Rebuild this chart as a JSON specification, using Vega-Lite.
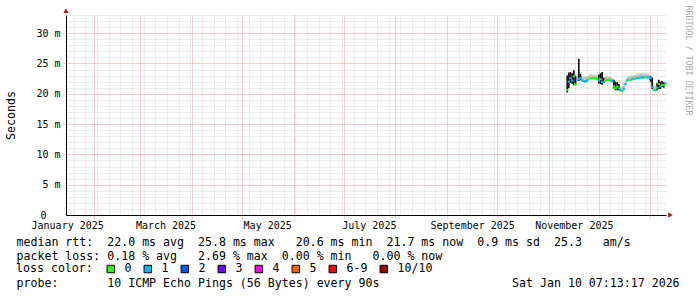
{
  "$schema": "https://vega.github.io/schema/vega-lite/v6.json",
  "width": 600,
  "height": 200,
  "autosize": {"type": "none"},
  "padding": {"left": 66, "top": 15, "right": 31, "bottom": 82},
  "background": "white",
  "config": {
    "view": {"stroke": null},
    "font": "DejaVu Sans Mono",
    "axis": {"labelFont": "DejaVu Sans Mono", "titleFont": "DejaVu Sans Mono", "titleFontWeight": "normal", "labelColor": "#000", "titleColor": "#000"},
    "legend": {"labelFont": "DejaVu Sans Mono", "titleFont": "DejaVu Sans Mono"}
  },
  "datasets": {
    "pings": [
      {"t":"2025-11-12T00:00","med":20.6,"lo":20.3,"hi":23.0,"loss":"0","bl":20.2,"bh":23.0},
      {"t":"2025-11-13T00:00","med":22.0,"lo":21.0,"hi":23.4,"loss":"1","bl":20.9,"bh":23.5},
      {"t":"2025-11-14T00:00","med":22.6,"lo":22.0,"hi":23.6,"loss":"1","bl":21.8,"bh":23.6},
      {"t":"2025-11-15T00:00","med":22.2,"lo":21.6,"hi":23.3,"loss":"1","bl":21.6,"bh":23.4},
      {"t":"2025-11-16T00:00","med":22.9,"lo":21.5,"hi":23.9,"loss":"0","bl":21.4,"bh":23.9},
      {"t":"2025-11-17T00:00","med":21.6,"lo":21.4,"hi":23.0,"loss":"0","bl":21.4,"bh":23.0},
      {"t":"2025-11-18T00:00","med":22.3,"lo":22.0,"hi":22.9,"loss":"1"},
      {"t":"2025-11-19T00:00","med":22.4,"lo":22.1,"hi":23.4,"loss":"1","bl":22.1,"bh":25.8},
      {"t":"2025-11-20T00:00","med":22.6,"lo":22.2,"hi":23.3,"loss":"1","bl":22.3,"bh":23.3},
      {"t":"2025-11-21T00:00","med":22.2,"lo":22.0,"hi":22.8,"loss":"1"},
      {"t":"2025-11-22T00:00","med":22.1,"lo":21.9,"hi":22.8,"loss":"1"},
      {"t":"2025-11-23T00:00","med":22.0,"lo":21.8,"hi":22.8,"loss":"1"},
      {"t":"2025-11-24T00:00","med":22.2,"lo":22.0,"hi":22.9,"loss":"1"},
      {"t":"2025-11-25T00:00","med":22.5,"lo":22.3,"hi":23.1,"loss":"0"},
      {"t":"2025-11-26T00:00","med":22.6,"lo":22.4,"hi":23.2,"loss":"0"},
      {"t":"2025-11-27T00:00","med":22.6,"lo":22.4,"hi":23.2,"loss":"0"},
      {"t":"2025-11-28T00:00","med":22.6,"lo":22.4,"hi":23.1,"loss":"0"},
      {"t":"2025-11-29T00:00","med":22.5,"lo":22.3,"hi":23.1,"loss":"0"},
      {"t":"2025-11-30T00:00","med":22.5,"lo":22.3,"hi":23.0,"loss":"0"},
      {"t":"2025-12-01T00:00","med":22.2,"lo":21.7,"hi":23.2,"loss":"1","bl":21.7,"bh":23.2},
      {"t":"2025-12-02T00:00","med":22.4,"lo":21.6,"hi":23.4,"loss":"0","bl":21.6,"bh":23.4},
      {"t":"2025-12-03T00:00","med":21.9,"lo":21.5,"hi":23.6,"loss":"1","bl":21.5,"bh":23.6},
      {"t":"2025-12-04T00:00","med":22.0,"lo":21.8,"hi":22.7,"loss":"1","bl":21.8,"bh":22.6},
      {"t":"2025-12-05T00:00","med":22.2,"lo":22.0,"hi":22.9,"loss":"0"},
      {"t":"2025-12-06T00:00","med":22.3,"lo":22.1,"hi":22.9,"loss":"0"},
      {"t":"2025-12-07T00:00","med":22.3,"lo":22.1,"hi":22.9,"loss":"0"},
      {"t":"2025-12-08T00:00","med":22.2,"lo":22.0,"hi":22.8,"loss":"1"},
      {"t":"2025-12-09T00:00","med":22.1,"lo":21.9,"hi":22.7,"loss":"1"},
      {"t":"2025-12-10T00:00","med":21.2,"lo":20.9,"hi":22.3,"loss":"0","bl":20.9,"bh":22.3},
      {"t":"2025-12-11T00:00","med":20.9,"lo":20.6,"hi":22.0,"loss":"0","bl":20.6,"bh":22.0},
      {"t":"2025-12-12T00:00","med":21.2,"lo":20.6,"hi":21.9,"loss":"0","bl":20.6,"bh":21.9},
      {"t":"2025-12-13T00:00","med":20.9,"lo":20.6,"hi":21.6,"loss":"1","bl":20.6,"bh":21.6},
      {"t":"2025-12-14T00:00","med":20.6,"lo":20.4,"hi":21.2,"loss":"1"},
      {"t":"2025-12-15T00:00","med":20.5,"lo":20.3,"hi":21.1,"loss":"0"},
      {"t":"2025-12-16T00:00","med":20.8,"lo":20.5,"hi":21.4,"loss":"1"},
      {"t":"2025-12-17T00:00","med":21.6,"lo":21.3,"hi":22.2,"loss":"1"},
      {"t":"2025-12-18T00:00","med":22.2,"lo":22.0,"hi":22.8,"loss":"1"},
      {"t":"2025-12-19T00:00","med":22.3,"lo":22.1,"hi":22.9,"loss":"0"},
      {"t":"2025-12-20T00:00","med":22.3,"lo":22.1,"hi":23.0,"loss":"0"},
      {"t":"2025-12-21T00:00","med":22.4,"lo":22.2,"hi":23.0,"loss":"1"},
      {"t":"2025-12-22T00:00","med":22.5,"lo":22.3,"hi":23.1,"loss":"1"},
      {"t":"2025-12-23T00:00","med":22.5,"lo":22.3,"hi":23.1,"loss":"0"},
      {"t":"2025-12-24T00:00","med":22.6,"lo":22.4,"hi":23.2,"loss":"1"},
      {"t":"2025-12-25T00:00","med":22.6,"lo":22.4,"hi":23.3,"loss":"1"},
      {"t":"2025-12-26T00:00","med":22.7,"lo":22.5,"hi":23.4,"loss":"1"},
      {"t":"2025-12-27T00:00","med":22.7,"lo":22.5,"hi":23.4,"loss":"1"},
      {"t":"2025-12-28T00:00","med":22.7,"lo":22.5,"hi":23.3,"loss":"1"},
      {"t":"2025-12-29T00:00","med":22.8,"lo":22.6,"hi":23.4,"loss":"0"},
      {"t":"2025-12-30T00:00","med":22.7,"lo":22.5,"hi":23.3,"loss":"1"},
      {"t":"2025-12-31T00:00","med":22.7,"lo":22.5,"hi":23.2,"loss":"1"},
      {"t":"2026-01-01T00:00","med":22.6,"lo":22.0,"hi":23.0,"loss":"1","bl":22.0,"bh":22.9},
      {"t":"2026-01-02T00:00","med":21.1,"lo":20.8,"hi":22.7,"loss":"1","bl":20.8,"bh":22.7},
      {"t":"2026-01-03T00:00","med":20.6,"lo":20.4,"hi":21.2,"loss":"0"},
      {"t":"2026-01-04T00:00","med":20.6,"lo":20.4,"hi":21.3,"loss":"1"},
      {"t":"2026-01-05T00:00","med":21.0,"lo":20.6,"hi":21.8,"loss":"0","bl":20.6,"bh":21.8},
      {"t":"2026-01-06T00:00","med":21.6,"lo":20.8,"hi":22.3,"loss":"0","bl":20.8,"bh":22.3},
      {"t":"2026-01-07T00:00","med":21.2,"lo":20.8,"hi":22.0,"loss":"1","bl":20.8,"bh":22.0},
      {"t":"2026-01-08T00:00","med":21.5,"lo":21.1,"hi":22.1,"loss":"0","bl":21.1,"bh":22.1},
      {"t":"2026-01-09T00:00","med":21.4,"lo":21.0,"hi":21.9,"loss":"0","bl":21.0,"bh":21.9},
      {"t":"2026-01-10T00:00","med":21.7,"lo":21.5,"hi":22.2,"loss":"1"}
    ],
    "arrows": [
      {"t":"2025-01-15T07:13:17","v":33.7,"dir":"up"},
      {"t":"2026-01-13T00:00:00","v":0,"dir":"right"}
    ]
  },
  "resolve": {"axis": {"x": "independent", "y": "independent"}},
  "layer": [
    {
      "data": {"name": "pings"},
      "mark": {"type": "area", "color": "#c4c4c4", "opacity": 1},
      "encoding": {
        "x": {
          "field": "t", "type": "temporal",
          "scale": {"domain": [{"year":2025,"month":1,"date":15,"hours":7,"minutes":13,"seconds":17},{"year":2026,"month":1,"date":10,"hours":7,"minutes":13,"seconds":17}]},
          "axis": {
            "orient": "bottom", "title": null, "labels": false, "domain": false, "ticks": false,
            "grid": true, "gridDash": [1, 1], "gridWidth": 1, "gridColor": "#d6d6d6",
            "values": [
              {"year":2025,"month":1,"date":20},{"year":2025,"month":1,"date":27},
              {"year":2025,"month":2,"date":3},{"year":2025,"month":2,"date":10},{"year":2025,"month":2,"date":17},{"year":2025,"month":2,"date":24},
              {"year":2025,"month":3,"date":3},{"year":2025,"month":3,"date":10},{"year":2025,"month":3,"date":17},{"year":2025,"month":3,"date":24},{"year":2025,"month":3,"date":31},
              {"year":2025,"month":4,"date":7},{"year":2025,"month":4,"date":14},{"year":2025,"month":4,"date":21},{"year":2025,"month":4,"date":28},
              {"year":2025,"month":5,"date":5},{"year":2025,"month":5,"date":12},{"year":2025,"month":5,"date":19},{"year":2025,"month":5,"date":26},
              {"year":2025,"month":6,"date":2},{"year":2025,"month":6,"date":9},{"year":2025,"month":6,"date":16},{"year":2025,"month":6,"date":23},{"year":2025,"month":6,"date":30},
              {"year":2025,"month":7,"date":7},{"year":2025,"month":7,"date":14},{"year":2025,"month":7,"date":21},{"year":2025,"month":7,"date":28},
              {"year":2025,"month":8,"date":4},{"year":2025,"month":8,"date":11},{"year":2025,"month":8,"date":18},{"year":2025,"month":8,"date":25},
              {"year":2025,"month":9,"date":8},{"year":2025,"month":9,"date":15},{"year":2025,"month":9,"date":22},{"year":2025,"month":9,"date":29},
              {"year":2025,"month":10,"date":6},{"year":2025,"month":10,"date":13},{"year":2025,"month":10,"date":20},{"year":2025,"month":10,"date":27},
              {"year":2025,"month":11,"date":3},{"year":2025,"month":11,"date":10},{"year":2025,"month":11,"date":17},{"year":2025,"month":11,"date":24},
              {"year":2025,"month":12,"date":8},{"year":2025,"month":12,"date":15},{"year":2025,"month":12,"date":22},{"year":2025,"month":12,"date":29},
              {"year":2026,"month":1,"date":5}
            ]
          }
        },
        "y": {
          "field": "lo", "type": "quantitative",
          "scale": {"domain": [0, 33], "nice": false, "zero": true},
          "axis": {
            "orient": "left", "title": null, "labels": false, "domain": false, "ticks": false,
            "grid": true, "gridDash": [1, 1], "gridWidth": 1, "gridColor": "#d6d6d6",
            "values": [1,2,3,4,6,7,8,9,11,12,13,14,16,17,18,19,21,22,23,24,26,27,28,29,31,32,33]
          }
        },
        "y2": {"field": "hi"}
      }
    },
    {
      "data": {"name": "pings"},
      "transform": [{"filter": "isValid(datum.bh)"}],
      "mark": {"type": "rule", "color": "#000000", "strokeWidth": 1.5},
      "encoding": {
        "x": {
          "field": "t", "type": "temporal",
          "axis": {
            "orient": "bottom", "title": null, "labels": false, "domain": false,
            "grid": true, "gridDash": [1, 1], "gridWidth": 1, "gridColor": "#ec9c9c",
            "ticks": true, "tickSize": 3, "tickDash": [1, 1], "tickColor": "#ec9c9c",
            "values": [
              {"year":2025,"month":2,"date":1},{"year":2025,"month":3,"date":1},{"year":2025,"month":4,"date":1},
              {"year":2025,"month":5,"date":1},{"year":2025,"month":6,"date":1},{"year":2025,"month":7,"date":1},
              {"year":2025,"month":8,"date":1},{"year":2025,"month":9,"date":1},{"year":2025,"month":10,"date":1},
              {"year":2025,"month":11,"date":1},{"year":2025,"month":12,"date":1},{"year":2026,"month":1,"date":1}
            ]
          }
        },
        "y": {
          "field": "bl", "type": "quantitative",
          "axis": {
            "orient": "left", "title": null, "labels": false, "domain": false,
            "grid": true, "gridDash": [1, 1], "gridWidth": 1, "gridColor": "#ec9c9c",
            "ticks": true, "tickSize": 3, "tickDash": [1, 1], "tickColor": "#ec9c9c",
            "values": [5, 10, 15, 20, 25, 30]
          }
        },
        "y2": {"field": "bh"}
      }
    },
    {
      "data": {"name": "pings"},
      "mark": {"type": "tick", "orient": "horizontal", "thickness": 2, "size": 2.5, "opacity": 1},
      "encoding": {
        "x": {
          "field": "t", "type": "temporal",
          "axis": {
            "orient": "bottom", "grid": false, "ticks": false, "tickSize": 0,
            "domain": true, "domainColor": "#000000", "domainWidth": 1,
            "labelFontSize": 10, "labelPadding": 5, "labelFlush": false, "labelOverlap": false, "labelBound": false,
            "format": "%B %Y", "formatType": "time",
            "values": [
              {"year":2025,"month":1,"date":16},{"year":2025,"month":3,"date":16},{"year":2025,"month":5,"date":16},
              {"year":2025,"month":7,"date":16},{"year":2025,"month":9,"date":16},{"year":2025,"month":11,"date":16}
            ],
            "title": [
              "median rtt:\u00a0\u00a022.0\u00a0ms\u00a0avg\u00a0\u00a025.8\u00a0ms\u00a0max\u00a0\u00a0\u00a020.6\u00a0ms\u00a0min\u00a0\u00a021.7\u00a0ms\u00a0now\u00a0\u00a00.9\u00a0ms\u00a0sd\u00a0\u00a025.3\u00a0\u00a0\u00a0am/s",
              "packet loss:\u00a00.18\u00a0%\u00a0avg\u00a0\u00a0\u00a02.69\u00a0%\u00a0max\u00a0\u00a00.00\u00a0%\u00a0min\u00a0\u00a0\u00a00.00\u00a0%\u00a0now"
            ],
            "titleFontSize": 11.6, "titleLineHeight": 13.5, "titleX": -50, "titleY": 21.5,
            "titleAlign": "left", "titleBaseline": "top", "titleLimit": 3000
          }
        },
        "y": {
          "field": "med", "type": "quantitative",
          "axis": {
            "orient": "left", "grid": false, "ticks": false, "tickSize": 0,
            "domain": true, "domainColor": "#000000", "domainWidth": 1,
            "values": [0, 5, 10, 15, 20, 25, 30],
            "labelExpr": "datum.value == 0 ? '0\u2800\u2800' : datum.value + '\u00a0m'",
            "labelFontSize": 10, "labelPadding": 6,
            "title": "Seconds", "titleFontSize": 11.6, "titleX": -55, "titleY": 100,
            "titleAngle": -90, "titleAlign": "center", "titleBaseline": "middle"
          }
        },
        "color": {
          "field": "loss", "type": "nominal",
          "scale": {
            "domain": ["0", "1", "2", "3", "4", "5", "6-9", "10/10"],
            "range": ["#26ff00", "#00b8ff", "#0059ff", "#7000ff", "#ff00f0", "#ff5e00", "#ff0000", "#a10000"]
          },
          "legend": {
            "orient": "none", "legendX": -50, "legendY": 248, "direction": "horizontal",
            "title": "loss color:", "titleOrient": "left", "titlePadding": 12,
            "titleAnchor": "middle", "titleBaseline": "middle",
            "titleFontSize": 11.6, "titleFontWeight": "normal", "titleColor": "#000000",
            "symbolType": "square", "symbolSize": 56,
            "symbolStrokeColor": "#000000", "symbolStrokeWidth": 1, "symbolOpacity": 1,
            "labelFontSize": 11.6, "labelColor": "#000000", "labelOffset": 8, "columnPadding": 10,
            "padding": 0,
            "encode": {"symbols": {"update": {"stroke": {"value": "#000000"}, "strokeWidth": {"value": 1}, "shape": {"value": "square"}, "opacity": {"value": 1}}}}
          }
        }
      }
    },
    {
      "data": {"name": "arrows"},
      "mark": {"type": "point", "filled": true, "size": 28, "opacity": 1, "color": "#a31d1d"},
      "encoding": {
        "x": {
          "field": "t", "type": "temporal",
          "axis": {
            "orient": "bottom", "labels": false, "ticks": false, "domain": false, "grid": false,
            "title": "probe:\u00a0\u00a0\u00a0\u00a0\u00a0\u00a0\u00a010\u00a0ICMP\u00a0Echo\u00a0Pings\u00a0(56\u00a0Bytes)\u00a0every\u00a090s\u00a0\u00a0\u00a0\u00a0\u00a0\u00a0\u00a0\u00a0\u00a0\u00a0\u00a0\u00a0\u00a0\u00a0\u00a0\u00a0\u00a0\u00a0\u00a0Sat\u00a0Jan\u00a010\u00a007:13:17\u00a02026",
            "titleFontSize": 11.6, "titleX": -50, "titleY": 62.5,
            "titleAlign": "left", "titleBaseline": "top", "titleLimit": 3000
          }
        },
        "y": {
          "field": "v", "type": "quantitative",
          "axis": {
            "orient": "right", "labels": false, "ticks": false, "domain": false, "grid": false,
            "title": "RRDTOOL / TOBI OETIKER", "titleAngle": 90, "titleX": 21, "titleY": 45,
            "titleAlign": "center", "titleBaseline": "middle", "titleFontSize": 8.3, "titleColor": "#ababab"
          }
        },
        "shape": {
          "field": "dir", "type": "nominal",
          "scale": {"domain": ["up", "right"], "range": ["triangle-up", "triangle-right"]},
          "legend": null
        }
      }
    }
  ]
}
